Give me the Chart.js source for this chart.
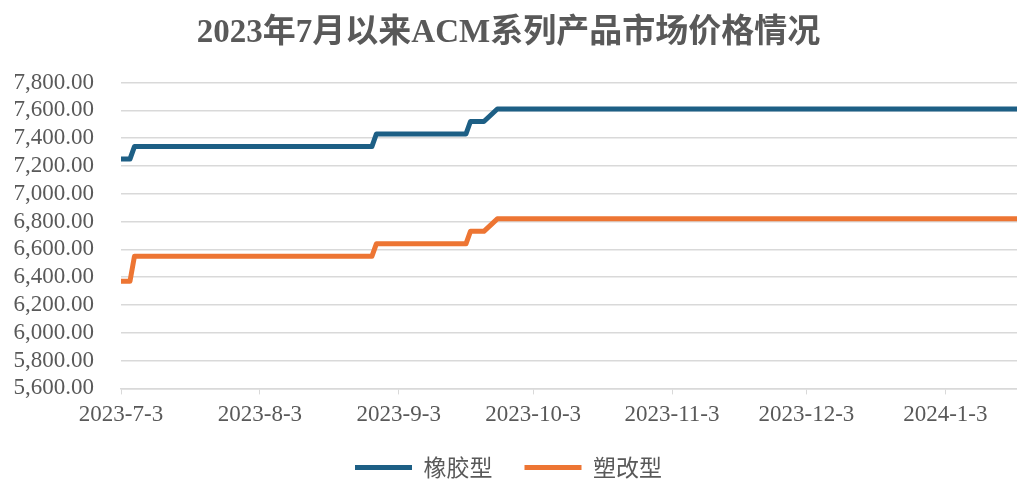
<!DOCTYPE html>
<html>
<head>
<meta charset="utf-8">
<script src="https://cdn.jsdelivr.net/npm/chart.js@4/dist/chart.umd.min.js"></script>
<style>
  html, body { margin: 0; padding: 0; background: #fff; }
  #wrap { width: 1017px; height: 480px; }
</style>
</head>
<body>
<div id="wrap"><canvas id="priceChart"></canvas></div>
<script>
// line vertices (price stays flat between them)
const dates = ["2023-7-3", "2023-7-5", "2023-7-6", "2023-8-28", "2023-8-29",
               "2023-9-18", "2023-9-19", "2023-9-22", "2023-9-25", "2024-1-19"];
const rubber = [7250, 7250, 7340, 7340, 7430, 7430, 7520, 7520, 7610, 7610];
const plastic = [6370, 6370, 6550, 6550, 6640, 6640, 6730, 6730, 6820, 6820];
const tickDates = ["2023-7-3", "2023-8-3", "2023-9-3", "2023-10-3", "2023-11-3", "2023-12-3", "2024-1-3"];
const seriesNames = ["橡胶型", "塑改型"];

const startDay = "2023-7-3";
const endDay = "2024-1-19";

function dayNum(s) {
    const p = s.split("-").map(Number);
    return Math.round((Date.UTC(p[0], p[1] - 1, p[2]) - Date.UTC(2023, 6, 3)) / 86400000);
}

function toPoints(vals) {
    return dates.map((d, i) => ({ x: dayNum(d), y: vals[i] }));
}

const tickPos = tickDates.map(dayNum);
const serif = "'Liberation Serif', 'Times New Roman', serif";
const textColor = "#595959";

// legend keeps wide gaps between items but a fixed, short height
const legendHeight = {
    id: "legendHeight",
    afterInit(chart) {
        const lg = chart.legend;
        const fit = lg.fit.bind(lg);
        lg.fit = function () {
            fit();
            this.height = 56;
        };
    }
};

const ctx = document.getElementById("priceChart");

new Chart(ctx, {
    type: "line",
    data: {
        datasets: [{
            label: seriesNames[0],
            data: toPoints(rubber),
            borderColor: "#1d5f85",
            backgroundColor: "#1d5f85",
            borderWidth: 5,
            borderCapStyle: "round",
            borderJoinStyle: "round",
            pointRadius: 0,
            tension: 0
        }, {
            label: seriesNames[1],
            data: toPoints(plastic),
            borderColor: "#ed7533",
            backgroundColor: "#ed7533",
            borderWidth: 5,
            borderCapStyle: "round",
            borderJoinStyle: "round",
            pointRadius: 0,
            tension: 0
        }]
    },
    options: {
        responsive: true,
        maintainAspectRatio: false,
        animation: false,
        layout: { padding: { left: 0, right: 0, top: 0, bottom: 0 } },
        plugins: {
            title: {
                display: true,
                text: "2023年7月以来ACM系列产品市场价格情况",
                color: textColor,
                font: { family: serif + ", 'Noto Sans CJK SC'", size: 33, weight: "bold" },
                padding: { top: 14, bottom: 29 }
            },
            legend: {
                position: "bottom",
                labels: {
                    color: textColor,
                    font: { family: "'Noto Sans CJK SC', " + serif, size: 23 },
                    usePointStyle: true,
                    pointStyle: "line",
                    pointStyleWidth: 57,
                    boxHeight: 5,
                    padding: 32
                }
            },
            tooltip: { enabled: false }
        },
        scales: {
            x: {
                type: "linear",
                min: dayNum(startDay),
                max: dayNum(endDay),
                afterBuildTicks: (scale) => {
                    scale.ticks = tickPos.map(v => ({ value: v }));
                },
                afterFit: (scale) => { scale.height -= 12; },
                ticks: {
                    color: textColor,
                    font: { family: serif, size: 23 },
                    padding: 7,
                    maxRotation: 0,
                    autoSkip: false,
                    callback: (v) => tickDates[tickPos.indexOf(v)]
                },
                grid: {
                    drawOnChartArea: false,
                    drawTicks: true,
                    tickLength: 6,
                    color: "#d9d9d9"
                },
                border: { display: true, color: "#d9d9d9", width: 1.5 }
            },
            y: {
                min: 5600,
                max: 7800,
                afterFit: (scale) => { scale.width = 121; },
                ticks: {
                    stepSize: 200,
                    autoSkip: false,
                    color: textColor,
                    font: { family: serif, size: 23 },
                    padding: 27,
                    callback: (v) => v.toLocaleString("en-US", { minimumFractionDigits: 2, maximumFractionDigits: 2 })
                },
                grid: {
                    color: "#d9d9d9",
                    lineWidth: 1.5,
                    drawTicks: false
                },
                border: { display: false }
            }
        }
    },
    plugins: [legendHeight]
});
</script>
</body>
</html>
